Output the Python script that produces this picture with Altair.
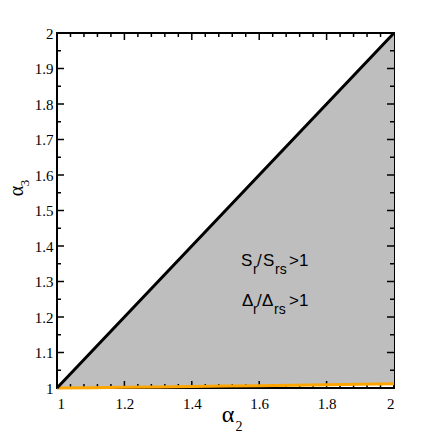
import altair as alt
import pandas as pd

# ---- data ----
ALPHA2 = [1.0, 1.1, 1.2, 1.3, 1.4, 1.5, 1.6, 1.7, 1.8, 1.9, 2.0]
DIAGONAL = [1.0, 1.1, 1.2, 1.3, 1.4, 1.5, 1.6, 1.7, 1.8, 1.9, 2.0]   # alpha3 = alpha2 boundary
ORANGE = [1.000, 1.001, 1.002, 1.003, 1.0045, 1.0055, 1.0065, 1.0075, 1.009, 1.0105, 1.012]

X_LABELS = [1.0, 1.2, 1.4, 1.6, 1.8, 2.0]
Y_LABELS = [1.0, 1.1, 1.2, 1.3, 1.4, 1.5, 1.6, 1.7, 1.8, 1.9, 2.0]
X_MAJOR = [1.2, 1.4, 1.6, 1.8]
X_MINOR = [1.04, 1.08, 1.12, 1.16, 1.24, 1.28, 1.32, 1.36, 1.44, 1.48, 1.52, 1.56,
           1.64, 1.68, 1.72, 1.76, 1.84, 1.88, 1.92, 1.96]
Y_MAJOR = [1.1, 1.2, 1.3, 1.4, 1.5, 1.6, 1.7, 1.8, 1.9]
Y_MINOR = [1.05, 1.15, 1.25, 1.35, 1.45, 1.55, 1.65, 1.75, 1.85, 1.95]

ANNOT_X = [1.546]
ANNOT_Y = [1.345, 1.232]
LINE1 = ["S", "r", "/", "S", "rs", ">1"]
LINE2 = ["Δ", "r", "/", "Δ", "rs", ">1"]
X_TITLE = ["α", "2"]
Y_TITLE = ["α", "3"]

SERIF = "Liberation Serif, Times New Roman, Times, serif"
SANS = "Liberation Sans, Arial, Helvetica, sans-serif"

W, H = 337, 355
xs = alt.Scale(domain=[1, 2], nice=False, zero=False)
ys = alt.Scale(domain=[1, 2], nice=False, zero=False)
XAX = alt.Axis(values=X_LABELS, format="~g", labelPadding=8, title=None,
               labelFont=SERIF, labelFontSize=15, labelColor="black")
YAX = alt.Axis(values=Y_LABELS, format="~g", labelPadding=4, title=None,
               labelFont=SERIF, labelFontSize=15, labelColor="black")


def X(f):
    return alt.X(f, scale=xs, axis=XAX)


def Y(f):
    return alt.Y(f, scale=ys, axis=YAX)


df = pd.DataFrame({"a2": ALPHA2, "upper": DIAGONAL, "lower": ORANGE})

area = alt.Chart(df).mark_area(color="#bebebe", opacity=1).encode(
    x=X("a2:Q"), y=Y("upper:Q"), y2="lower:Q",
)
orange = alt.Chart(df).mark_line(color="#ffa500", strokeWidth=3).encode(x=X("a2:Q"), y=Y("lower:Q"))
diag = alt.Chart(df).mark_line(color="black", strokeWidth=3).encode(x=X("a2:Q"), y=Y("upper:Q"))


def xticks(vals, length):
    d = pd.DataFrame({"v": vals})
    base = alt.Chart(d).mark_rule(color="black", strokeWidth=1.5)
    bot = base.encode(x=X("v:Q"), y=alt.value(H), y2=alt.value(H - length))
    top = base.encode(x=X("v:Q"), y=alt.value(0), y2=alt.value(length))
    return [bot, top]


def yticks(vals, length):
    d = pd.DataFrame({"v": vals})
    base = alt.Chart(d).mark_rule(color="black", strokeWidth=1.5)
    left = base.encode(y=Y("v:Q"), x=alt.value(0), x2=alt.value(length))
    right = base.encode(y=Y("v:Q"), x=alt.value(W), x2=alt.value(W - length))
    return [left, right]


ticks = xticks(X_MAJOR, 7) + xticks(X_MINOR, 4) + yticks(Y_MAJOR, 7) + yticks(Y_MINOR, 4)

# annotation pieces: (dx, dy, fontSize)
offsets1 = [(0, 0, 17), (12, 8, 14), (16, 0, 17), (22, 0, 17), (34, 8, 14), (48, 0, 17)]
offsets2 = [(1, 0, 17), (12, 8, 14), (16, 0, 17), (21, 0, 17), (33, 8, 14), (48, 0, 17)]
annots = []
for line, yv, offs in [(LINE1, ANNOT_Y[0], offsets1), (LINE2, ANNOT_Y[1], offsets2)]:
    for txt, (dx, dy, fs) in zip(line, offs):
        d = pd.DataFrame({"x": ANNOT_X, "y": [yv], "t": [txt]})
        annots.append(
            alt.Chart(d).mark_text(align="left", baseline="alphabetic", dx=dx, dy=dy, fontSize=fs,
                                   font=SANS, color="black").encode(
                x=X("x:Q"), y=Y("y:Q"), text="t:N")
        )

# axis titles (alpha with subscript)
titles = []
d = pd.DataFrame({"t": [X_TITLE[0]]})
titles.append(alt.Chart(d).mark_text(font=SERIF, fontSize=24, align="center", baseline="alphabetic",
                                     color="black").encode(x=alt.value(171), y=alt.value(389), text="t:N"))
d = pd.DataFrame({"t": [X_TITLE[1]]})
titles.append(alt.Chart(d).mark_text(font=SERIF, fontSize=14, align="center", baseline="alphabetic",
                                     color="black").encode(x=alt.value(182), y=alt.value(398), text="t:N"))
d = pd.DataFrame({"t": [Y_TITLE[0]]})
titles.append(alt.Chart(d).mark_text(font=SERIF, fontSize=20, align="center", baseline="alphabetic",
                                     angle=270, color="black").encode(x=alt.value(-34), y=alt.value(158), text="t:N"))
d = pd.DataFrame({"t": [Y_TITLE[1]]})
titles.append(alt.Chart(d).mark_text(font=SERIF, fontSize=13, align="center", baseline="alphabetic",
                                     angle=270, color="black").encode(x=alt.value(-28), y=alt.value(150), text="t:N"))

chart = alt.layer(area, *ticks, orange, diag, *annots, *titles).properties(
    width=W, height=H,
    autosize=alt.AutoSizeParams(type="none"),
    padding={"left": 49, "top": 25, "right": 34, "bottom": 48},
    background="white",
).configure_view(stroke="black", strokeWidth=2).configure_axis(
    grid=False, domain=False, ticks=False, labelFont=SERIF, labelFontSize=15, labelColor="black"
)

chart.save("out.html", embed_options={"renderer": "svg", "actions": False})
